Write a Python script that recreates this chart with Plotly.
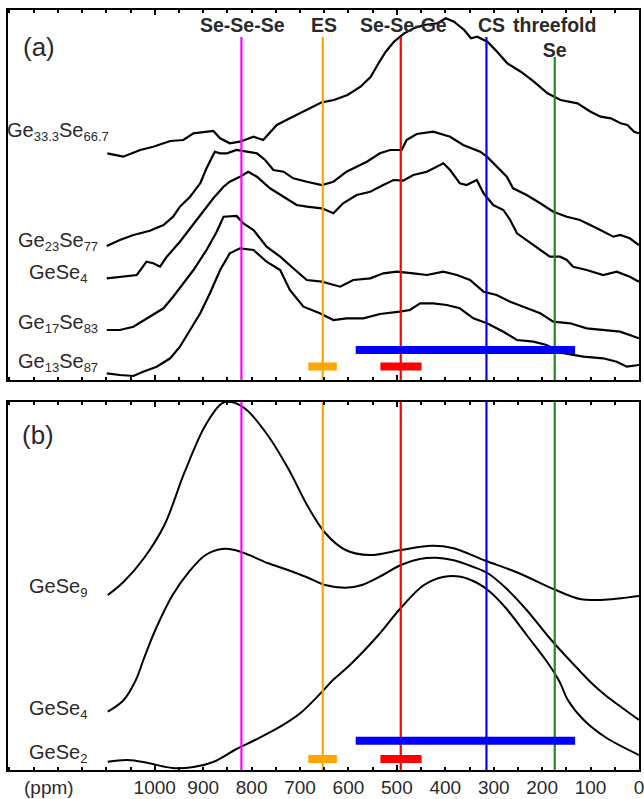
import plotly.graph_objects as go

# ---------------- Panel (a): experimental 77Se NMR spectra ----------------
a_ge333_ppm = [1098, 1065, 1030, 1003, 968, 941, 920, 879, 865, 845, 824, 796, 776, 748, 721, 693, 673, 655, 630, 602, 575, 554, 540, 523, 506, 485, 465, 444, 416, 399, 382, 361, 347, 334, 313, 293, 272, 244, 217, 189, 162, 127, 100, 79, 58, 38, 24, 10, 0]
a_ge333_int = [226.7, 223.3, 230, 233.3, 239, 240, 246.7, 249, 241.7, 236.7, 238.3, 243.3, 240, 255, 261.7, 268.3, 273.3, 277.7, 280, 285, 293.3, 303.3, 315, 328.3, 338.3, 346.7, 351.7, 355, 356.7, 361.7, 358.3, 350, 341.7, 343.3, 338.3, 328.3, 316.7, 308.3, 298.3, 286.7, 280, 276.7, 268.3, 263.3, 261.7, 256.7, 255, 248.3, 246.7]

a_ge23_ppm = [1099, 1072, 1044, 1010, 982, 962, 948, 927, 906, 893, 876, 865, 851, 831, 810, 789, 772, 755, 734, 714, 686, 655, 631, 604, 562, 535, 514, 490, 480, 459, 425, 390, 363, 328, 314, 294, 273, 260, 232, 204, 177, 149, 122, 87, 53, 39, 19, 0]
a_ge23_int = [134, 140, 145, 149.3, 155, 163.3, 173.3, 183.3, 196.7, 211.7, 228.3, 226.7, 226.7, 230, 228.3, 226.7, 220, 210, 208.3, 201.7, 198.3, 195, 198.3, 208.3, 218.3, 226.7, 230, 230, 240, 246, 248.3, 243.3, 235, 228.3, 223.3, 213.3, 203.3, 191.7, 185, 176.7, 168.3, 163.3, 160, 151.7, 143.3, 145, 141.7, 135]

a_gese4_ppm = [1099, 1072, 1037, 1017, 1003, 989, 975, 948, 927, 900, 879, 858, 845, 824, 807, 789, 762, 734, 707, 686, 655, 631, 611, 583, 555, 528, 507, 487, 466, 438, 418, 404, 390, 370, 356, 335, 321, 301, 280, 266, 252, 232, 204, 184, 163, 149, 136, 108, 74, 46, 19, 0]
a_gese4_int = [101.7, 103.3, 105, 118.3, 116.7, 113.3, 123.3, 138.3, 151.7, 168.3, 181.7, 193.3, 198.3, 203.3, 208.3, 203.3, 191.7, 183.3, 175, 173.3, 171.7, 166.7, 176.7, 185, 188.3, 195, 200, 199.3, 205, 208.3, 213.3, 216.7, 210, 196.7, 195, 200, 186.7, 175, 170, 160, 146.7, 140, 130, 123.3, 123.3, 120, 113.3, 110, 105, 108.3, 103.3, 98.3]

a_ge17_ppm = [1099, 1072, 1044, 1010, 982, 962, 941, 920, 893, 872, 858, 831, 817, 796, 769, 741, 714, 686, 655, 617, 590, 555, 528, 500, 466, 438, 404, 376, 349, 321, 294, 266, 239, 204, 177, 142, 108, 74, 39, 0]
a_ge17_int = [50, 50, 53.3, 63.3, 71.7, 83.3, 96.7, 110, 130, 148.3, 163.3, 164, 156.7, 150, 133.3, 123.3, 111.7, 100, 98.3, 93.3, 100, 101.7, 106.7, 108.3, 106.7, 105, 108.3, 105, 100, 88.3, 85, 78.3, 73.3, 66.7, 58.3, 56.7, 51.7, 50, 48.3, 41.7]

a_ge13_ppm = [1099, 1072, 1044, 1024, 996, 968, 948, 927, 906, 886, 865, 845, 824, 796, 769, 741, 721, 693, 659, 631, 604, 569, 535, 494, 473, 452, 425, 397, 370, 342, 314, 280, 252, 218, 191, 156, 115, 74, 46, 25, 0]
a_ge13_int = [6.7, 5, 4, 8.3, 13.3, 21.7, 33.3, 50, 66.7, 86.7, 110, 126.7, 131.7, 130, 118.3, 110, 90, 73.3, 66.7, 60, 61.7, 61.7, 66, 68.3, 70, 76.7, 76.7, 75, 71.7, 61.7, 56.7, 48.3, 40, 38.3, 35, 26.7, 23.3, 21.7, 18.3, 13.3, 15]

a_names = [("Ge", "33.3", "Se", "66.7"), ("Ge", "23", "Se", "77"), ("GeSe", "4", "", ""),
           ("Ge", "17", "Se", "83"), ("Ge", "13", "Se", "87")]
a_series = [(a_ge333_ppm, a_ge333_int), (a_ge23_ppm, a_ge23_int), (a_gese4_ppm, a_gese4_int),
            (a_ge17_ppm, a_ge17_int), (a_ge13_ppm, a_ge13_int)]

# ---------------- Panel (b): simulated spectra ----------------
b_gese9_ppm = [1097, 1064, 1022, 980, 938, 895, 861, 839, 810, 767, 725, 682, 648, 606, 556, 492, 428, 385, 317, 249, 172, 122, 78, 0]
b_gese9_int = [175, 188.3, 212, 245, 298.3, 345, 366.7, 367.7, 360, 335, 302, 262, 237, 220, 215, 220, 224.3, 222, 209.3, 197, 180, 171, 170, 174]

b_gese4_ppm = [1097, 1064, 1039, 1022, 997, 963, 929, 895, 861, 835, 810, 767, 725, 682, 648, 606, 572, 529, 492, 453, 419, 385, 343, 313, 275, 232, 190, 172, 130, 96, 70, 37, 0]
b_gese4_int = [58.3, 70, 90, 112, 142, 175, 198.3, 215, 221, 220, 216, 207, 200, 192, 185, 182.3, 185, 195, 205, 211, 212.3, 210, 203.3, 197, 182, 160, 135, 125, 103, 86, 75, 63, 50]

b_gese2_ppm = [1097, 1056, 1014, 963, 920, 878, 835, 793, 741, 699, 657, 632, 597, 538, 492, 444, 402, 368, 334, 308, 275, 232, 190, 164, 147, 114, 70, 0]
b_gese2_int = [8.3, 10, 7, 2, 3, 8.3, 20, 30, 43.3, 57, 77, 90, 105, 135, 162, 185, 193.3, 193.3, 187, 178.3, 162, 135, 108.3, 88.3, 70, 50, 33, 15]

b_names = [("GeSe", "9", "", ""), ("GeSe", "4", "", ""), ("GeSe", "2", "", "")]
b_series = [(b_gese9_ppm, b_gese9_int), (b_gese4_ppm, b_gese4_int), (b_gese2_ppm, b_gese2_int)]

# ---------------- Site markers ----------------
site_names = ["Se-Se-Se", "ES", "Se-Se-Ge", "CS", "threefold<br>Se"]
site_ppm = [821, 653, 492, 315, 174]
site_colors = ["#FF00FF", "#FFA500", "#FF0000", "#0000FF", "#1E8C1E"]
site_top_a = [343, 343, 343, 343, 323]

# ranges (bars)
range_start = [585, 683, 534]
range_end = [132, 624, 449]
range_colors = ["#0000FF", "#FFA500", "#FF0000"]
range_y_a = [30, 13.5, 13.5]
range_y_b = [29.3, 11, 11]

tick_vals = [1000, 900, 800, 700, 600, 500, 400, 300, 200, 100, 0]
tick_text = ["1000", "900", "800", "700", "600", "500", "400", "300", "200", "100", "0"]

X_RANGE = [1303, 0]
YA_RANGE = [0, 370]
YB_RANGE = [0, 368]

fig = go.Figure()

for xs, ys in a_series:
    fig.add_trace(go.Scatter(x=xs, y=ys, mode="lines", line=dict(color="black", width=2.2),
                             xaxis="x2", yaxis="y2", hoverinfo="skip", showlegend=False))
for xs, ys in b_series:
    fig.add_trace(go.Scatter(x=xs, y=ys, mode="lines", line=dict(color="black", width=2, shape="spline", smoothing=1.0),
                             xaxis="x", yaxis="y", hoverinfo="skip", showlegend=False))

for p, c, ta in zip(site_ppm, site_colors, site_top_a):
    fig.add_trace(go.Scatter(x=[p, p], y=[0, ta], mode="lines", line=dict(color=c, width=2.2),
                             xaxis="x2", yaxis="y2", hoverinfo="skip", showlegend=False))
    fig.add_trace(go.Scatter(x=[p, p], y=YB_RANGE, mode="lines", line=dict(color=c, width=2.2),
                             xaxis="x", yaxis="y", hoverinfo="skip", showlegend=False))

for s, e, c, ya, yb in zip(range_start, range_end, range_colors, range_y_a, range_y_b):
    fig.add_trace(go.Scatter(x=[s, e], y=[ya, ya], mode="lines", line=dict(color=c, width=8),
                             xaxis="x2", yaxis="y2", hoverinfo="skip", showlegend=False))
    fig.add_trace(go.Scatter(x=[s, e], y=[yb, yb], mode="lines", line=dict(color=c, width=8),
                             xaxis="x", yaxis="y", hoverinfo="skip", showlegend=False))

W, H = 644, 799
ML, MR, MT, MB = 8, 5, 10, 29
PW, PH = W - ML - MR, H - MT - MB

def px(xp):
    return (xp - ML) / PW

def py(yp):
    return (H - MB - yp) / PH

TXT = "#2a2a2a"
FONT = "Liberation Sans, Arial, Helvetica, sans-serif"

def formula(parts):
    m1, s1, m2, s2 = parts
    out = m1 + '<sub><span style="font-size:13px">' + s1 + '</span></sub>'
    if m2:
        out += m2 + '<sub><span style="font-size:13px">' + s2 + '</span></sub>'
    return out

annotations = []
annotations.append(dict(text="(a)", x=px(21), y=py(47), xref="paper", yref="paper", xanchor="left", yanchor="middle",
                        showarrow=False, font=dict(size=26, color=TXT, family=FONT)))
annotations.append(dict(text="(b)", x=px(20), y=py(435), xref="paper", yref="paper", xanchor="left", yanchor="middle",
                        showarrow=False, font=dict(size=26, color=TXT, family=FONT)))

site_label_x = [242, 324, 403, 491, 554]
site_label_y = [25, 25, 25, 25, 37]
for t, lx, ly in zip(site_names, site_label_x, site_label_y):
    annotations.append(dict(text="<b>" + t + "</b>", x=px(lx), y=py(ly), xref="paper", yref="paper",
                            xanchor="center", yanchor="middle", showarrow=False,
                            font=dict(size=19.5, color=TXT, family=FONT)))

a_label_right = [111, 100, 89, 100, 100]
a_label_y = [131, 241, 273, 323, 362]
for parts, rx, ly in zip(a_names, a_label_right, a_label_y):
    annotations.append(dict(text=formula(parts), x=px(rx), y=py(ly), xref="paper", yref="paper", xanchor="right",
                            yanchor="middle", showarrow=False, font=dict(size=20, color=TXT, family=FONT)))
b_label_right = [89, 89, 89]
b_label_y = [587, 709, 753]
for parts, rx, ly in zip(b_names, b_label_right, b_label_y):
    annotations.append(dict(text=formula(parts), x=px(rx), y=py(ly), xref="paper", yref="paper", xanchor="right",
                            yanchor="middle", showarrow=False, font=dict(size=20, color=TXT, family=FONT)))

annotations.append(dict(text="(ppm)", x=px(49), y=py(787), xref="paper", yref="paper", xanchor="center",
                        yanchor="middle", showarrow=False, font=dict(size=19, color=TXT, family=FONT)))

dom_b = [0, py(402)]
dom_a = [py(380), 1]

axis_common = dict(range=X_RANGE, showline=True, linecolor="black", linewidth=2.3, mirror="ticks",
                   ticks="inside", ticklen=5, tickwidth=1.6, tickcolor="black", showgrid=False, zeroline=False,
                   tick0=0, dtick=500,
                   minor=dict(ticks="inside", dtick=50, tick0=0, ticklen=2.5, tickwidth=1.6, tickcolor="black",
                              showgrid=False))

fig.update_layout(
    width=W, height=H,
    margin=dict(l=ML, r=MR, t=MT, b=MB, autoexpand=False),
    paper_bgcolor="white", plot_bgcolor="white",
    font=dict(family=FONT, color=TXT),
    xaxis=dict(**axis_common, anchor="y", showticklabels=False),
    xaxis3=dict(range=X_RANGE, overlaying="x", anchor="y", side="bottom", showline=False, showgrid=False,
                zeroline=False, ticks="", tickmode="array", tickvals=tick_vals, ticktext=tick_text,
                ticklabeloverflow="allow", ticklabelstandoff=4,
                tickfont=dict(size=19, color=TXT, family=FONT)),
    xaxis2=dict(**axis_common, anchor="y2", showticklabels=False, matches="x"),
    yaxis=dict(domain=dom_b, range=YB_RANGE, showline=True, linecolor="black", linewidth=2.3, mirror=True,
               ticks="", showticklabels=False, showgrid=False, zeroline=False),
    yaxis2=dict(domain=dom_a, range=YA_RANGE, showline=True, linecolor="black", linewidth=2.3, mirror=True,
                ticks="", showticklabels=False, showgrid=False, zeroline=False),
    annotations=annotations,
    showlegend=False,
)
fig.add_trace(go.Scatter(x=[0], y=[0], xaxis="x3", yaxis="y", mode="markers", marker=dict(opacity=0),
                         hoverinfo="skip", showlegend=False))

fig.write_html("out.html", config={"responsive": False, "displayModeBar": False},
               post_script="document.body.style.margin='0px';document.body.style.overflow='hidden';")
